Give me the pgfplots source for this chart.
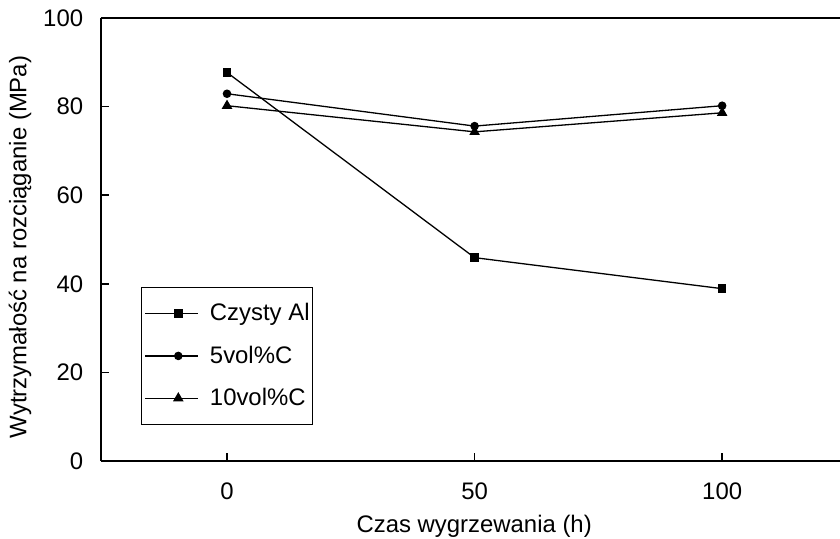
\documentclass[border=0pt]{standalone}
\usepackage{fontspec}
\setmainfont{Liberation Sans}
\usepackage{pgfplots}
\pgfplotsset{compat=1.18}
\begin{document}
\begin{tikzpicture}[font=\fontsize{12}{14}\selectfont]
\begin{axis}[
  scale only axis, width=369.5bp, height=221.5bp,
  xmin=-25.45, xmax=123.8, ymin=0, ymax=100,
  axis lines*=left,
  axis line style={line width=0.75bp, -},
  tick style={line width=0.75bp, black},
  tick align=inside, major tick length=4bp,
  xtick={0,50,100}, ytick={0,20,...,100},
  /pgf/number format/assume math mode=true,
  xticklabel style={anchor=base, inner sep=0pt, yshift=-19bp},
  yticklabel style={anchor=east, inner sep=0pt, xshift=-8.75bp},
  xlabel={Czas wygrzewania (h)},
  ylabel={Wytrzymałość na rozciąganie (MPa)},
  xlabel style={at={(axis description cs:0.505,-0.1625)}, anchor=base, inner sep=0pt},
  ylabel style={at={(axis description cs:-0.1096,0.483)}, anchor=center, inner sep=0pt},
  legend style={at={(axis description cs:0.054,0.081)}, anchor=south west,
    draw=black, line width=0.75bp, inner xsep=1.5bp, inner ysep=6bp,
    row sep=7bp, column sep=5.5bp, nodes={inner xsep=0pt}},
  legend cell align=left,
  legend image code/.code={
    \path (0bp,0bp) -- (6.5bp,0bp);
    \draw[line width=0.65bp, mark repeat=2, mark phase=2] plot coordinates {(6.5bp,0bp) (16.5bp,0bp) (26.5bp,0bp)};
  },
]
\addplot[black, line width=0.65bp, mark=square*, mark size=1.8bp] coordinates {
  (0,87.7) (50,45.9) (100,38.9)
};
\addlegendentry{Czysty Al}
\addplot[black, line width=0.65bp, mark=*, mark size=1.8bp] coordinates {
  (0,82.9) (50,75.6) (100,80.2)
};
\addlegendentry{5vol\%C}
\addplot[black, line width=0.65bp, mark=triangle*, mark size=2.4bp] coordinates {
  (0,80.2) (50,74.3) (100,78.6)
};
\addlegendentry{10vol\%C}
\draw[line width=0.75bp] (rel axis cs:0,1) -- (rel axis cs:1,1);
\path (rel axis cs:0,0) ++(-50.5bp,-39bp) coordinate (bl);
\path (rel axis cs:1,1) ++(0bp,9bp) coordinate (tr);
\end{axis}
\pgfresetboundingbox
\path (bl) rectangle (tr);
\end{tikzpicture}
\end{document}
